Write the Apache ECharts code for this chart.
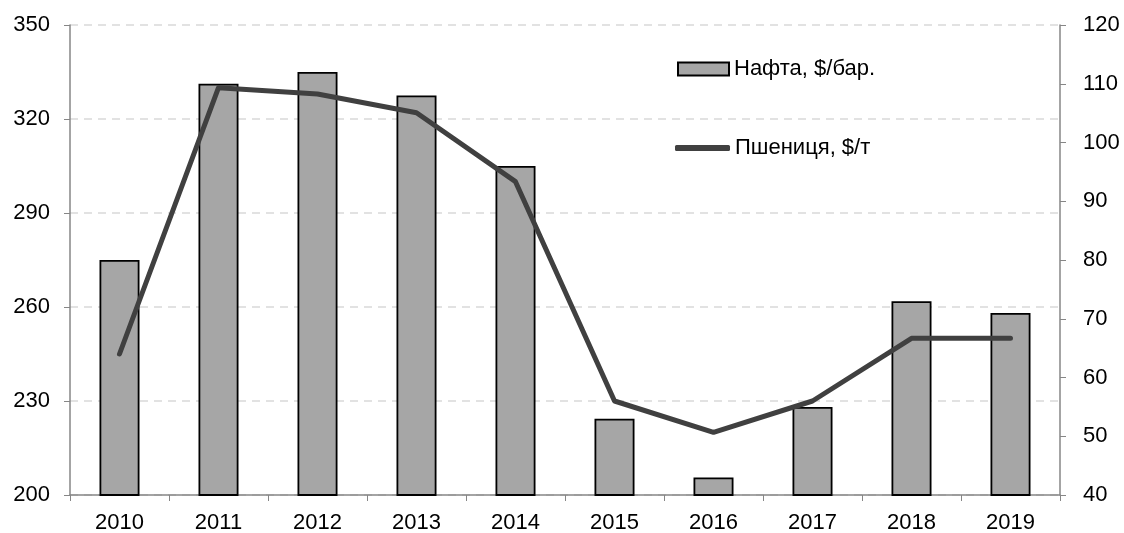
<!DOCTYPE html>
<html>
<head>
<meta charset="utf-8">
<script src="https://cdn.jsdelivr.net/npm/echarts@6/dist/echarts.min.js"></script>
<style>
  html, body { margin: 0; padding: 0; background: #fff; }
  #chart { width: 1124px; height: 533px; }
</style>
</head>
<body>
<div id="chart"></div>
<script>
// дані
var years = ['2010', '2011', '2012', '2013', '2014', '2015', '2016', '2017', '2018', '2019']
var oil = [80, 110, 112, 108, 96, 53, 43, 55, 73, 71]
var wheat = [245, 330, 328, 322, 300, 230, 220, 230, 250, 250]
var oilName = 'Нафта, $/бар.'
var wheatName = 'Пшениця, $/т'

var font = 'Liberation Sans, Arial, sans-serif'
var axisGray = '#868686'
var lineColor = '#404040'

var chart = echarts.init(document.getElementById('chart'))
chart.setOption({
  animation: false,
  textStyle: { fontFamily: font },
  grid: { left: 70, right: 64, top: 25, bottom: 38, outerBoundsMode: 'none' },
  // дві легенди, щоб задати різні розміри значків
  legend: [
    {
      left: 672,
      top: 53,
      itemWidth: 51,
      itemHeight: 13,
      itemGap: 0,
      textStyle: { fontSize: 22, color: '#000', fontFamily: font, padding: [0, 0, 0, 0] },
      data: [{ name: oilName, icon: 'rect' }]
    },
    {
      left: 670,
      top: 132,
      itemWidth: 55,
      itemHeight: 6,
      itemGap: 0,
      textStyle: { fontSize: 22, color: '#000', fontFamily: font, padding: [0, 0, 0, 0] },
      data: [{ name: wheatName, icon: 'roundRect', itemStyle: { color: lineColor, borderWidth: 0 } }]
    }
  ],
  xAxis: {
    type: 'category',
    data: years,
    boundaryGap: true,
    axisLine: { lineStyle: { color: axisGray, width: 1.5 } },
    axisTick: { show: true, length: 6, lineStyle: { color: axisGray } },
    axisLabel: { fontSize: 22, color: '#000', margin: 17 }
  },
  yAxis: [
    {
      type: 'value',
      min: 200,
      max: 350,
      interval: 30,
      position: 'left',
      axisLine: { show: true, lineStyle: { color: axisGray, width: 1.5 } },
      axisTick: { show: true, length: 6, lineStyle: { color: axisGray } },
      axisLabel: { fontSize: 22, color: '#000', margin: 20 },
      splitLine: { lineStyle: { color: '#d9d9d9', type: [8, 6], width: 1.5 } }
    },
    {
      type: 'value',
      min: 40,
      max: 120,
      interval: 10,
      position: 'right',
      axisLine: { show: true, lineStyle: { color: axisGray, width: 1.5 } },
      axisTick: { show: true, length: 6, lineStyle: { color: axisGray } },
      axisLabel: { fontSize: 22, color: '#000', margin: 23 },
      splitLine: { show: false }
    }
  ],
  series: [
    {
      name: oilName,
      type: 'bar',
      yAxisIndex: 1,
      barWidth: 40,
      data: oil,
      itemStyle: { color: '#a6a6a6', borderColor: '#000', borderWidth: 1.8 }
    },
    {
      name: wheatName,
      type: 'line',
      yAxisIndex: 0,
      data: wheat,
      symbol: 'none',
      lineStyle: { color: lineColor, width: 5, cap: 'round', join: 'round' },
      itemStyle: { color: lineColor }
    }
  ]
})
</script>
</body>
</html>
